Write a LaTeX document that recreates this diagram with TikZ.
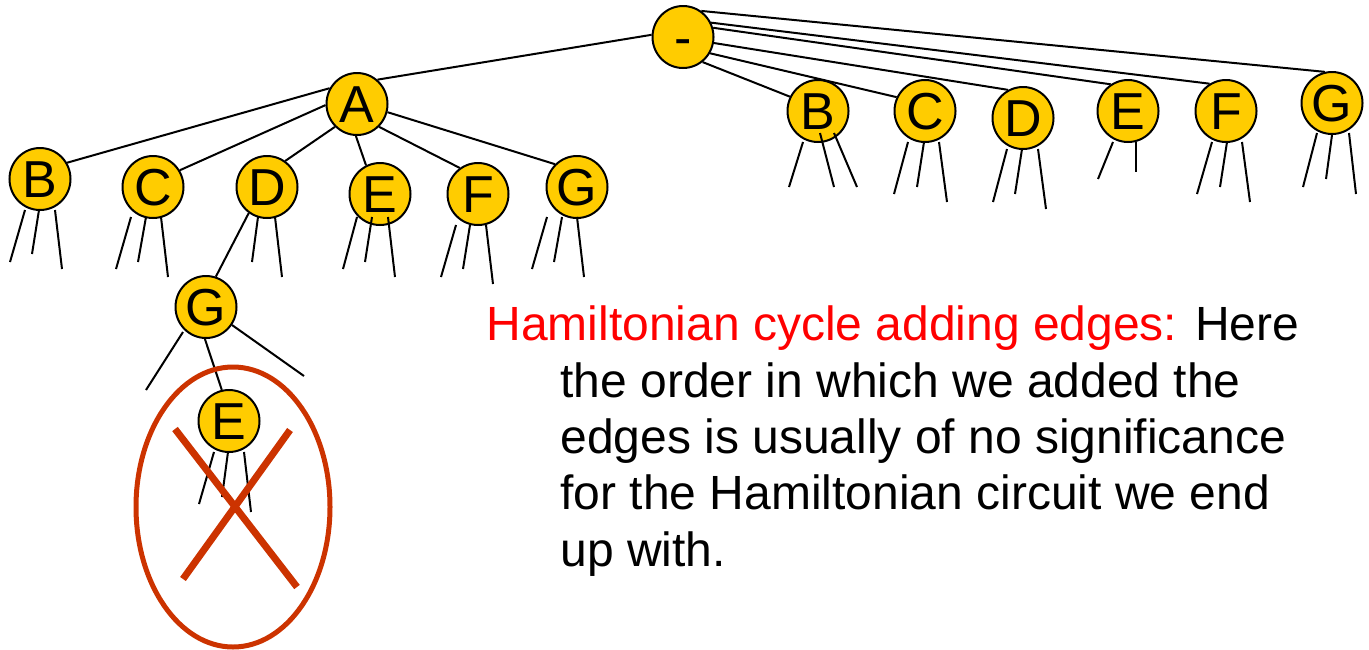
\documentclass[tikz,border=0pt]{standalone}
\usepackage{fontspec}
\setmainfont{Liberation Sans}
\usetikzlibrary{shapes.geometric}
\definecolor{nodegold}{HTML}{FFCC00}
\definecolor{crossred}{HTML}{CC3300}
\tikzset{
  vertex/.style={ellipse,draw,fill=nodegold,line width=1pt,
    minimum width=30.5pt,minimum height=31pt,inner sep=0pt,
    text height=18.6pt,text depth=0pt,
    font=\fontsize{26}{26}\selectfont},
  edge/.style={line width=1pt},
}
\begin{document}
\begin{tikzpicture}[x=0.5pt,y=-0.5pt]
  \useasboundingbox (0,0) rectangle (1369,649);
  %root
  \node[vertex] (root) at (683,37) {-};
  %left subtree
  \node[vertex] (A) at (357,104) {A};
  \node[vertex] (lB) at (40,179) {B};
  \node[vertex] (lC) at (153,187) {C};
  \node[vertex] (lD) at (267,187) {D};
  \node[vertex] (lE) at (380,194) {E};
  \node[vertex] (lF) at (478,194) {F};
  \node[vertex] (lG) at (577,187) {G};
  \node[vertex] (DG) at (206,307) {G};
  \node[vertex] (DGE) at (229,421) {E};
  %right children
  \node[vertex] (rB) at (818,111) {B};
  \node[vertex] (rC) at (925,111) {C};
  \node[vertex] (rD) at (1023,118) {D};
  \node[vertex] (rE) at (1128,111) {E};
  \node[vertex] (rF) at (1226,111) {F};
  \node[vertex] (rG) at (1332,103) {G};
  %edges
  \draw[edge] (root.176) -- (A.50);
  \foreach \n/\s/\e in {lB/150/31,lC/182/32,lD/226/55,lE/268/116,lF/314/125,lG/-15/134}
    \draw[edge] (A.\s) -- (\n.\e);
  \foreach \n/\s/\e in {rB/-52/153,rC/-31/154,rD/-11/118,rE/17/123,rF/27/121,rG/55/103}
    \draw[edge] (root.\s) -- (\n.\e);
  \draw[edge] (lD.235) -- (DG.72);
  \draw[edge] (DG.268) -- (DGE.103);
  %open branches
  \foreach \n/\sx/\sy/\dx/\dy in {
      lB/-15/31/-15/52, lB/-1/31/-7/44, lB/15/31/7/59,
      lC/-22/30/-15/52, lC/-7/30/-8/45, lC/8/30/7/60,
      lD/-9/30/-6/45, lD/8/30/7/60,
      lE/-23/23/-14/52, lE/-8/23/-7/45, lE/8/23/7/60,
      lF/-22/31/-15/52, lF/-8/31/-7/44, lF/8/31/7/59,
      lG/-30/30/-15/52, lG/-15/30/-8/45, lG/0/30/7/60,
      DG/-23/25/-37/58, DG/26/18/72/51,
      DGE/-15/31/-15/52, DGE/-1/31/-6/45, DGE/15/31/7/60,
      rB/-15/31/-14/45, rB/2/22/14/54, rB/16/22/23/54,
      rC/-17/31/-14/52, rC/-1/31/-7/45, rC/14/31/8/60,
      rD/-16/31/-14/53, rD/-1/31/-7/45, rD/15/31/8/60,
      rE/-15/31/-15/37, rE/8/31/0/30,
      rF/-14/31/-15/52, rF/1/31/-7/45, rF/16/31/8/60,
      rG/-15/30/-14/54, rG/0/32/-6/44, rG/17/30/7/61}
    \draw[edge] (\n.center) ++(\sx,\sy) -- ++(\dx,\dy);
  %crossed out
  \draw[crossred,line width=2.5pt] (233,507) ellipse [x radius=97,y radius=140];
  \draw[crossred,line width=3.5pt] (175,429) -- (297,587);
  \draw[crossred,line width=3.5pt] (290,430) -- (183,579);
  %note
  \node[anchor=base west,align=left,inner sep=0pt,
    font=\fontsize{24}{28.15}\selectfont] (note) at (486,566)
    {\textcolor{red}{Hamiltonian cycle adding edges:} Here\\
     \hspace*{37pt}the order in which we added the\\
     \hspace*{37pt}edges is usually of no significance\\
     \hspace*{37pt}for the Hamiltonian circuit we end\\
     \hspace*{37pt}up with.};
\end{tikzpicture}
\end{document}
